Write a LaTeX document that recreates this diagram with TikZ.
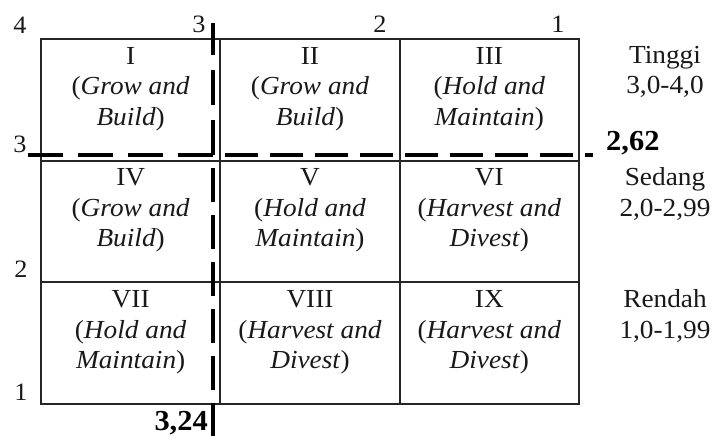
\documentclass[tikz,border=0pt]{standalone}
\usepackage{fontspec}
\setmainfont[FakeStretch=1.05]{Liberation Serif}
\usetikzlibrary{positioning}
\tikzset{
  cell/.style={draw=black!85, line width=2pt, minimum width=179.33pt,
               minimum height=121.67pt, inner sep=0pt, outer sep=0pt},
  celltxt/.style={align=center, inner sep=0pt, text=black!90,
                  font=\fontsize{26}{30.5}\selectfont},
  sidetxt/.style={celltxt},
  axnum/.style={inner sep=0pt, text=black!90, font=\fontsize{25}{30}\selectfont},
  cutval/.style={inner sep=0pt, font=\fontsize{29}{32}\selectfont\bfseries},
  cutline/.style={line width=3.2pt, dash pattern=on 35pt off 15pt},
}

\begin{document}
\begin{tikzpicture}[x=1pt, y=-1pt]
    \useasboundingbox (0,0) rectangle (715,436);
    % 3x3 grid
    \node[cell, anchor=north west] (c1) at (41,39) {};
    \node[cell, right=0pt of c1] (c2) {};
    \node[cell, right=0pt of c2] (c3) {};
    \node[cell, below=0pt of c1] (c4) {};
    \node[cell, right=0pt of c4] (c5) {};
    \node[cell, right=0pt of c5] (c6) {};
    \node[cell, below=0pt of c4] (c7) {};
    \node[cell, right=0pt of c7] (c8) {};
    \node[cell, right=0pt of c8] (c9) {};
    % cell texts
    \node[celltxt, below=8pt of c1.north] (t1) {I\\(\textit{Grow and}\\\textit{Build})};
    \node[celltxt, below=8pt of c2.north] (t2) {II\\(\textit{Grow and}\\\textit{Build})};
    \node[celltxt, below=8pt of c3.north] (t3) {III\\(\textit{Hold and}\\\textit{Maintain})};
    \node[celltxt, below=8pt of c4.north] (t4) {IV\\(\textit{Grow and}\\\textit{Build})};
    \node[celltxt, below=8pt of c5.north] (t5) {V\\(\textit{Hold and}\\\textit{Maintain})};
    \node[celltxt, below=8pt of c6.north] (t6) {VI\\(\textit{Harvest and}\\\textit{Divest})};
    \node[celltxt, below=8pt of c7.north] (t7) {VII\\(\textit{Hold and}\\\textit{Maintain})};
    \node[celltxt, below=8pt of c8.north] (t8) {VIII\\(\textit{Harvest and}\\\textit{Divest})};
    \node[celltxt, below=8pt of c9.north] (t9) {IX\\(\textit{Harvest and}\\\textit{Divest})};
    % row classes
    \node[sidetxt, below=7pt of c3.north east, xshift=86pt] (hi) {Tinggi\\3,0-4,0};
    \node[sidetxt, below=7pt of c6.north east, xshift=86pt] (mid) {Sedang\\2,0-2,99};
    \node[sidetxt, below=7pt of c9.north east, xshift=86pt] (lo) {Rendah\\1,0-1,99};
    % axis numbers
    \node[axnum] (x4) at (20,25) {4};
    \node[axnum] (x3) at (199,24) {3};
    \node[axnum] (x2) at (380,24) {2};
    \node[axnum] (x1) at (558,24) {1};
    \node[axnum] (y3) at (20,144) {3};
    \node[axnum] (y2) at (21,269) {2};
    \node[axnum] (y1) at (21,392) {1};
    % cut-off scores
    \coordinate (k) at (213,155);
    \coordinate (ktop) at (213,23);
    \coordinate (kleft) at (22,155);
    \coordinate (kright) at (593,155);
    \coordinate (kbot) at (213,440);
    \draw[cutline] (k) -- (ktop);
    \draw[cutline] (k) -- (kleft);
    \draw[cutline, dash pattern=on 33pt off 12pt] ([xshift=12pt]k) -- (kright);
    \draw[cutline, dash pattern=on 34pt off 13pt] ([yshift=-13pt]k) -- (kbot);
    \node[cutval, anchor=base west] (ifas) at (606,150) {2,62};
    \node[cutval, anchor=base east] (efas) at (208,430) {3,24};
\end{tikzpicture}
\end{document}
